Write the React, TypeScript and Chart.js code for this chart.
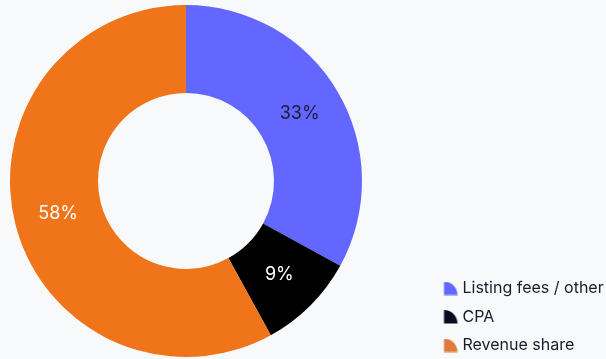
import React, { useEffect, useRef, useState } from "react";
import { Chart, registerables } from "chart.js";

Chart.register(...registerables);

const categories = ["Listing fees / other", "CPA", "Revenue share"];
const shares = [33, 9, 58];
const sliceColors = ["#6467ff", "#000000", "#f07419"];
const legendColors = ["#6467ff", "#0b0b1f", "#e07a3a"];
const labelColors = ["#1b1b3a", "#ffffff", "#ffffff"];

const FONT = "Inter, 'DejaVu Sans', sans-serif";
const LEGEND_BOX_W = 80;
const ICON_CANVAS_W = 100;
const LEGEND_PAD = 12.5;
const ICON_OFFSET = 69.5 + (ICON_CANVAS_W - LEGEND_BOX_W) / 2;
const ICON_SIZE = 13.5;

function quarterIcon(color: string): HTMLCanvasElement {
  const c = document.createElement("canvas");
  c.width = ICON_CANVAS_W;
  c.height = 14;
  const ctx = c.getContext("2d");
  if (ctx) {
    ctx.fillStyle = color;
    ctx.beginPath();
    const x0 = ICON_OFFSET;
    const y0 = 13.5;
    ctx.moveTo(x0, y0);
    ctx.arc(x0, y0, ICON_SIZE, -Math.PI / 2, 0);
    ctx.closePath();
    ctx.fill();
  }
  return c;
}

const legendShift = {
  id: "legendShift",
  beforeInit(chart: any) {
    const legend = chart.legend;
    if (!legend) return;
    const orig = legend.fit;
    legend.fit = function () {
      orig.call(this);
      this.width = 244;
    };
  },
  afterLayout(chart: any) {
    const legend = chart.legend;
    if (!legend) return;
    legend.top += 9;
    legend.bottom += 9;
  },
};

const sliceLabels = {
  id: "sliceLabels",
  afterDatasetsDraw(chart: any) {
    const ctx = chart.ctx;
    const meta = chart.getDatasetMeta(0);
    const data = chart.data.datasets[0].data as number[];
    const total = data.reduce((a, b) => a + b, 0);
    ctx.save();
    ctx.font = `18px ${FONT}`;
    ctx.textAlign = "center";
    ctx.textBaseline = "middle";
    meta.data.forEach((el: any, i: number) => {
      const p = el.tooltipPosition();
      ctx.fillStyle = labelColors[i];
      ctx.fillText(`${Math.round((data[i] / total) * 100)}%`, p.x, p.y);
    });
    ctx.restore();
  },
};

const background = {
  id: "bg",
  beforeDraw(chart: any) {
    const ctx = chart.ctx;
    ctx.save();
    ctx.fillStyle = "#f8f9fb";
    ctx.fillRect(0, 0, chart.width, chart.height);
    ctx.restore();
  },
};

export default function App() {
  const ref = useRef<HTMLCanvasElement>(null);
  const [err, setErr] = useState("");

  useEffect(() => {
    if (!ref.current) return;
    let chart: any = null;
    try {
      const icons = legendColors.map(quarterIcon);
      chart = new Chart(ref.current, {
        type: "doughnut",
        data: {
          labels: categories,
          datasets: [
            {
              data: shares,
              backgroundColor: sliceColors,
              borderWidth: 0,
              hoverOffset: 0,
            },
          ],
        },
        options: {
          responsive: false,
          animation: false,
          cutout: "50%",
          layout: { padding: { left: 10, top: 5, bottom: 2, right: 0 } },
          plugins: {
            tooltip: { enabled: false },
            legend: {
              position: "right",
              align: "end",
              labels: {
                usePointStyle: true,
                pointStyleWidth: LEGEND_BOX_W,
                padding: LEGEND_PAD,
                color: "#1a1b2b",
                font: { family: FONT, size: 16 },
                generateLabels: () =>
                  categories.map((text, i) => ({
                    text,
                    fillStyle: legendColors[i],
                    strokeStyle: legendColors[i],
                    lineWidth: 0,
                    pointStyle: icons[i],
                    hidden: false,
                    index: i,
                    datasetIndex: 0,
                    fontColor: "#1a1b2b",
                  })),
              },
            },
          },
        },
        plugins: [background, legendShift, sliceLabels],
      });
    } catch (e: any) {
      setErr(String(e && e.stack ? e.stack : e));
    }
    return () => {
      if (chart) chart.destroy();
    };
  }, []);

  return (
    <div style={{ position: "absolute", left: 0, top: 0, width: 606, height: 359, background: "#f8f9fb" }}>
      <canvas ref={ref} width={606} height={359} style={{ display: "block" }} />
      {err ? (
        <pre style={{ position: "absolute", left: 0, top: 0, fontSize: 9, whiteSpace: "pre-wrap", margin: 0 }}>{err}</pre>
      ) : null}
    </div>
  );
}
